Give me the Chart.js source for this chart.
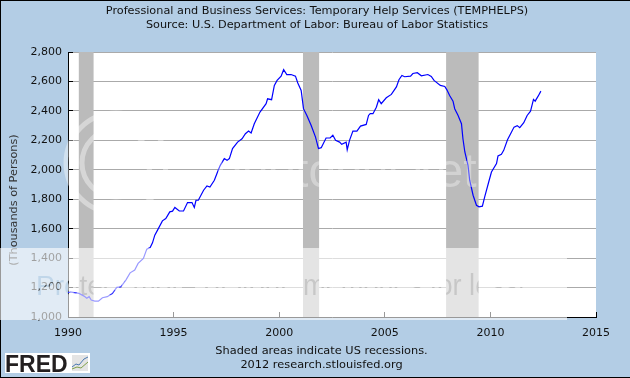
<!DOCTYPE html>
<html>
<head>
<meta charset="utf-8">
<style>
  html, body { margin: 0; padding: 0; background: #b3cde5; }
  canvas { display: block; }
</style>
<script src="https://cdn.jsdelivr.net/npm/chart.js@4"></script>
</head>
<body>
<canvas id="fredChart" width="630" height="378"></canvas>
<script>
const titleLines = ['Professional and Business Services: Temporary Help Services (TEMPHELPS)', 'Source: U.S. Department of Labor: Bureau of Labor Statistics'];
const footerLines = ['Shaded areas indicate US recessions.', '2012 research.stlouisfed.org'];
const yAxisTitle = '(Thousands of Persons)';

const years = [1990.0,1990.1,1990.52,1990.76,1990.89,1991.0,1991.1,1991.27,1991.44,1991.63,1991.86,1992.1,1992.31,1992.5,1992.74,1992.94,1993.16,1993.32,1993.57,1993.73,1993.89,1994.0,1994.11,1994.24,1994.47,1994.63,1994.82,1994.95,1995.06,1995.27,1995.47,1995.66,1995.87,1995.98,1996.06,1996.17,1996.42,1996.58,1996.72,1996.93,1997.08,1997.21,1997.4,1997.53,1997.64,1997.79,1998.03,1998.24,1998.4,1998.55,1998.67,1998.82,1999.09,1999.38,1999.45,1999.64,1999.77,1999.9,2000.09,2000.21,2000.36,2000.56,2000.77,2000.88,2001.04,2001.15,2001.31,2001.51,2001.72,2001.86,2001.99,2002.22,2002.41,2002.54,2002.67,2002.86,2002.96,2003.17,2003.22,2003.33,2003.49,2003.68,2003.85,2004.12,2004.23,2004.31,2004.44,2004.6,2004.71,2004.83,2005.07,2005.31,2005.55,2005.67,2005.81,2005.94,2006.22,2006.33,2006.54,2006.73,2007.04,2007.2,2007.33,2007.63,2007.84,2007.94,2008.07,2008.23,2008.31,2008.47,2008.63,2008.7,2008.79,2008.94,2009.02,2009.18,2009.34,2009.46,2009.62,2009.73,2009.92,2010.05,2010.29,2010.36,2010.52,2010.63,2010.81,2011.0,2011.12,2011.27,2011.39,2011.58,2011.74,2011.9,2012.04,2012.12,2012.26,2012.39];
const temps = [1165,1170,1160,1142,1127,1138,1115,1108,1108,1131,1138,1160,1201,1205,1251,1300,1319,1364,1398,1461,1472,1504,1556,1590,1653,1669,1714,1719,1744,1720,1720,1777,1777,1744,1793,1793,1861,1890,1883,1929,1985,2030,2076,2064,2076,2144,2188,2211,2245,2263,2250,2313,2392,2449,2482,2476,2573,2607,2636,2680,2647,2647,2636,2590,2539,2415,2369,2302,2222,2144,2150,2216,2216,2234,2200,2188,2173,2188,2136,2200,2263,2263,2297,2308,2369,2381,2381,2425,2476,2449,2489,2512,2563,2612,2641,2632,2636,2654,2659,2638,2647,2634,2607,2573,2566,2543,2505,2466,2415,2369,2313,2211,2121,2030,1929,1827,1759,1748,1753,1816,1917,1985,2042,2094,2105,2132,2204,2256,2290,2300,2286,2320,2369,2398,2478,2466,2500,2534];

const recessionStarts = [1990.5, 2001.12, 2007.9];
const recessionEnds = [1991.22, 2001.9, 2009.45];

const xMin = 1990, xMax = 2015, xStep = 5;
const yMin = 1000, yMax = 2800, yStep = 200;

const lineData = years.map((y, i) => ({ x: y, y: temps[i] }));
const recessionData = [];
recessionStarts.forEach((s, i) => {
  recessionData.push({ x: s, y: yMax }, { x: recessionEnds[i], y: yMax }, { x: recessionEnds[i], y: NaN });
});

const textFont = '11.25px "DejaVu Sans"';

// page background, frame, white plot area, and the texts under the watermark
const backdrop = {
  id: 'backdrop',
  beforeDraw(chart) {
    const { ctx, chartArea: a, width, height } = chart;
    ctx.save();
    ctx.fillStyle = '#b3cde5';
    ctx.fillRect(0, 0, width, height);
    ctx.fillStyle = '#000';
    ctx.fillRect(0, 0, width, 1);
    ctx.fillRect(0, 0, 1, height);
    ctx.fillRect(0, height - 1, width, 1);
    ctx.fillStyle = '#fff';
    ctx.fillRect(a.left, a.top, a.right - a.left, a.bottom - a.top);

    ctx.fillStyle = '#111';
    ctx.font = textFont;
    ctx.textAlign = 'center';
    ctx.textBaseline = 'middle';
    ctx.fillText(titleLines[0], 317, 11);
    ctx.fillText(titleLines[1], 317, 25);

    ctx.translate(14, 200);
    ctx.rotate(-Math.PI / 2);
    ctx.fillStyle = '#333';
    ctx.fillText(yAxisTitle, 0, 0);
    ctx.restore();
  }
};

// footer text and the FRED badge
const footer = {
  id: 'footer',
  afterDraw(chart) {
    const { ctx } = chart;
    ctx.save();
    ctx.fillStyle = '#111';
    ctx.font = '11.35px "DejaVu Sans"';
    ctx.textAlign = 'center';
    ctx.textBaseline = 'middle';
    ctx.fillText(footerLines[0], 321.5, 351);
    ctx.fillText(footerLines[1], 321.5, 365);

    ctx.fillStyle = '#fff';
    ctx.fillRect(5, 353, 85, 20);
    ctx.fillStyle = '#231f20';
    ctx.font = 'bold 23px "Liberation Sans"';
    ctx.textAlign = 'left';
    ctx.textBaseline = 'alphabetic';
    ctx.fillText('FRED', 5, 372);
    ctx.fillStyle = '#e4e4e4';
    ctx.fillRect(72, 355, 16, 16);
    ctx.lineWidth = 1;
    ctx.strokeStyle = '#4a78b0';
    ctx.beginPath();
    ctx.moveTo(72, 367); ctx.lineTo(76, 364); ctx.lineTo(79, 365); ctx.lineTo(84, 359); ctx.lineTo(88, 357);
    ctx.stroke();
    ctx.strokeStyle = '#7fa04a';
    ctx.beginPath();
    ctx.moveTo(72, 369); ctx.lineTo(77, 367); ctx.lineTo(81, 368); ctx.lineTo(88, 362);
    ctx.stroke();
    ctx.restore();
  }
};

// photo host watermark lying over the picture
const watermark = {
  id: 'watermark',
  afterDraw(chart) {
    const { ctx } = chart;
    ctx.save();
    ctx.strokeStyle = 'rgba(255,255,255,0.4)';
    ctx.lineWidth = 5;
    ctx.beginPath();
    ctx.arc(116, 163, 50, 0, Math.PI * 2);
    ctx.stroke();
    ctx.beginPath();
    ctx.arc(116, 163, 34, 0, Math.PI * 2);
    ctx.stroke();
    ctx.fillStyle = 'rgba(255,255,255,0.35)';
    ctx.font = '48px "Liberation Sans"';
    ctx.textAlign = 'left';
    ctx.textBaseline = 'alphabetic';
    ctx.fillText('photobucket', 215, 187);
    ctx.restore();

    const off = document.createElement('canvas');
    off.width = 567;
    off.height = 72;
    const o = off.getContext('2d');
    o.fillStyle = 'rgba(255,255,255,0.6)';
    o.fillRect(0, 0, 567, 72);
    o.globalCompositeOperation = 'destination-out';
    o.fillStyle = 'rgba(0,0,0,0.7)';
    o.font = '28px "Liberation Sans"';
    o.textBaseline = 'alphabetic';
    o.fillText('Protect more of your', 36, 47);
    o.font = '30px "Liberation Sans"';
    o.fillText('memories for less!', 303, 47, 222);
    ctx.drawImage(off, 0, 248);
  }
};

new Chart(document.getElementById('fredChart'), {
  data: {
    datasets: [
      {
        type: 'line',
        label: 'TEMPHELPS',
        data: lineData,
        borderColor: '#0000ff',
        borderWidth: 1.2,
        pointRadius: 0,
        tension: 0,
        fill: false,
        order: 1
      },
      {
        type: 'line',
        label: 'Recessions',
        data: recessionData,
        borderWidth: 0,
        borderColor: 'rgba(0,0,0,0)',
        backgroundColor: '#bbbbbb',
        pointRadius: 0,
        fill: 'origin',
        spanGaps: false,
        order: 2
      }
    ]
  },
  options: {
    responsive: false,
    animation: false,
    layout: { padding: { left: 1, right: 34, top: 52, bottom: 0 } },
    plugins: {
      legend: { display: false },
      tooltip: { enabled: false }
    },
    scales: {
      x: {
        type: 'linear',
        min: xMin,
        max: xMax,
        afterFit(scale) { scale.height = 61; },
        border: { color: '#000', width: 1 },
        grid: { drawOnChartArea: false, tickLength: -5, tickColor: '#000' },
        ticks: {
          stepSize: xStep,
          maxRotation: 0,
          padding: 15,
          color: '#111',
          font: { family: 'DejaVu Sans', size: 11 },
          callback: v => String(v)
        }
      },
      y: {
        min: yMin,
        max: yMax,
        afterFit(scale) { scale.width = 67; },
        border: { color: '#000', width: 1 },
        grid: { color: '#aaaaaa', tickLength: -5, tickColor: '#000' },
        ticks: {
          stepSize: yStep,
          padding: 11,
          color: '#111',
          font: { family: 'DejaVu Sans', size: 11 },
          callback: v => v.toLocaleString('en-US')
        }
      }
    }
  },
  plugins: [backdrop, footer, watermark]
});
</script>
</body>
</html>
